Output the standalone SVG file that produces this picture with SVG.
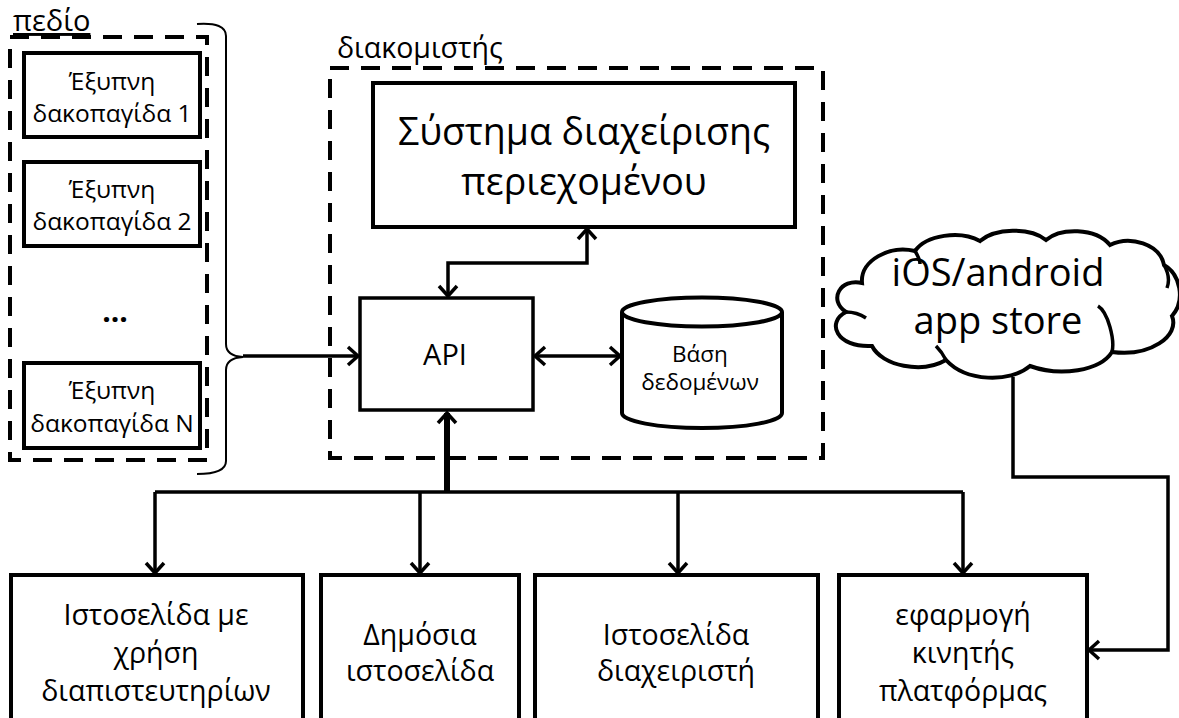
<svg xmlns="http://www.w3.org/2000/svg" width="1179" height="718" viewBox="0 0 1179 718">
  <style>
    text { font-family: "Open Sans", "Noto Sans", "DejaVu Sans", sans-serif; fill: #000; }
    .box { fill: #fff; stroke: #000; stroke-width: 4; }
    .thin { fill: #fff; stroke: #000; stroke-width: 3.5; }
    .group { fill: none; stroke: #000; stroke-width: 4; stroke-dasharray: 19 12; }
    .wire { fill: none; stroke: #000; stroke-width: 3.5; }
    .trunk { fill: none; stroke: #000; stroke-width: 6; }
    .trap { font-size: 24.5px; text-anchor: middle; }
    .app { font-size: 28.5px; text-anchor: middle; }
  </style>
  <defs>
    <marker id="arrow" viewBox="0 0 14 22" refX="12" refY="11" markerWidth="14" markerHeight="22" markerUnits="userSpaceOnUse" orient="auto-start-reverse">
      <path d="M2,2 L12,11 L2,20" fill="none" stroke="#000" stroke-width="3.5" stroke-linejoin="miter"/>
    </marker>
  </defs>

  <!-- field group: smart traps -->
  <g id="field">
    <rect class="group" x="10" y="37" width="197" height="423"/>
    <text x="13" y="31" font-size="29" text-decoration="underline">πεδίο</text>
    <path d="M197 24 Q226 22 226 36 V344 Q226 356 243 357 Q226 358 226 370 V461 Q226 474 197 474" fill="none" stroke="#000" stroke-width="2"/>
  </g>
  <g id="trap1">
    <rect class="box" x="24" y="53" width="176" height="84"/>
    <text class="trap" x="112" y="90">Έξυπνη</text>
    <text class="trap" x="112" y="122">δακοπαγίδα 1</text>
  </g>
  <g id="trap2">
    <rect class="box" x="24" y="162" width="176" height="84"/>
    <text class="trap" x="112" y="198">Έξυπνη</text>
    <text class="trap" x="112" y="230">δακοπαγίδα 2</text>
  </g>
  <g id="ellipsis">
    <text x="115" y="322" font-size="30" font-weight="bold" text-anchor="middle">...</text>
  </g>
  <g id="trapN">
    <rect class="box" x="24" y="363" width="176" height="85"/>
    <text class="trap" x="112" y="399">Έξυπνη</text>
    <text class="trap" x="112" y="432">δακοπαγίδα N</text>
  </g>

  <!-- server group -->
  <g id="server">
    <rect class="group" x="330" y="68" width="493" height="390"/>
    <text x="337" y="58" font-size="28.5">διακομιστής</text>
  </g>
  <g id="cms">
    <rect class="box" x="373" y="83" width="422" height="144"/>
    <text x="584" y="145" font-size="37.5" text-anchor="middle">Σύστημα διαχείρισης</text>
    <text x="584" y="195" font-size="37.5" text-anchor="middle">περιεχομένου</text>
  </g>
  <g id="api">
    <rect class="thin" x="360" y="298" width="173" height="112"/>
    <text x="445" y="365" font-size="29" text-anchor="middle">API</text>
  </g>
  <g id="database">
    <path d="M622 312 V413 A80 15 0 0 0 782 413 V312" class="box"/>
    <ellipse cx="702" cy="312" rx="80" ry="14.5" class="box"/>
    <text x="700" y="362" font-size="22.5" text-anchor="middle">Βάση</text>
    <text x="700" y="390" font-size="22.5" text-anchor="middle">δεδομένων</text>
  </g>

  <!-- app store cloud -->
  <g id="appstore">
    <path class="box" d="M862 283 C840 278 828 300 846 312 C826 322 836 348 872 346 C882 366 922 374 946 360 C966 382 1010 383 1030 366 C1060 377 1100 371 1112 352 C1150 357 1180 336 1172 316 C1186 300 1180 274 1164 265 C1160 244 1130 235 1110 245 C1095 227 1060 228 1046 240 C1030 227 995 228 980 241 C960 230 926 235 915 251 C890 245 860 260 862 283 Z"/>
    <path d="M846 312 C852 312 860 314 866 318 M1112 352 C1115 340 1108 312 1098 306 M1164 265 C1168 272 1170 280 1167 288 M946 360 C944 356 940 350 936 346 M915 251 C918 256 920 260 920 264" fill="none" stroke="#000" stroke-width="3.5"/>
    <text x="998" y="286" font-size="38" text-anchor="middle">iOS/android</text>
    <text x="998" y="334" font-size="38" text-anchor="middle">app store</text>
  </g>

  <!-- client applications -->
  <g id="cred-site">
    <rect class="box" x="11" y="575" width="292" height="170"/>
    <text class="app" x="156" y="625">Ιστοσελίδα με</text>
    <text class="app" x="156" y="663">χρήση</text>
    <text class="app" x="156" y="701">διαπιστευτηρίων</text>
  </g>
  <g id="public-site">
    <rect class="box" x="321" y="575" width="198" height="170"/>
    <text class="app" x="420" y="645">Δημόσια</text>
    <text class="app" x="420" y="681">ιστοσελίδα</text>
  </g>
  <g id="admin-site">
    <rect class="box" x="535" y="575" width="283" height="170"/>
    <text class="app" x="676" y="645">Ιστοσελίδα</text>
    <text class="app" x="676" y="681">διαχειριστή</text>
  </g>
  <g id="mobile-app">
    <rect class="box" x="839" y="575" width="248" height="170"/>
    <text class="app" x="963" y="625">εφαρμογή</text>
    <text class="app" x="963" y="663">κινητής</text>
    <text class="app" x="963" y="701">πλατφόρμας</text>
  </g>

  <!-- connectors -->
  <g id="connectors">
    <path class="wire" d="M243 356 H358" marker-end="url(#arrow)"/>
    <path class="wire" d="M535 356 H620" marker-start="url(#arrow)" marker-end="url(#arrow)"/>
    <path class="wire" d="M448 296 V263 H587 V229" marker-start="url(#arrow)" marker-end="url(#arrow)"/>
    <path class="trunk" d="M447 492 V413" marker-end="url(#arrow)"/>
    <path class="wire" d="M155 492 H963"/>
    <path class="wire" d="M155 492 V573" marker-end="url(#arrow)"/>
    <path class="wire" d="M420 492 V573" marker-end="url(#arrow)"/>
    <path class="wire" d="M678 492 V573" marker-end="url(#arrow)"/>
    <path class="wire" d="M963 492 V573" marker-end="url(#arrow)"/>
    <path class="wire" d="M1013 377 V477 H1168 V650 H1089" marker-end="url(#arrow)"/>
  </g>
</svg>
